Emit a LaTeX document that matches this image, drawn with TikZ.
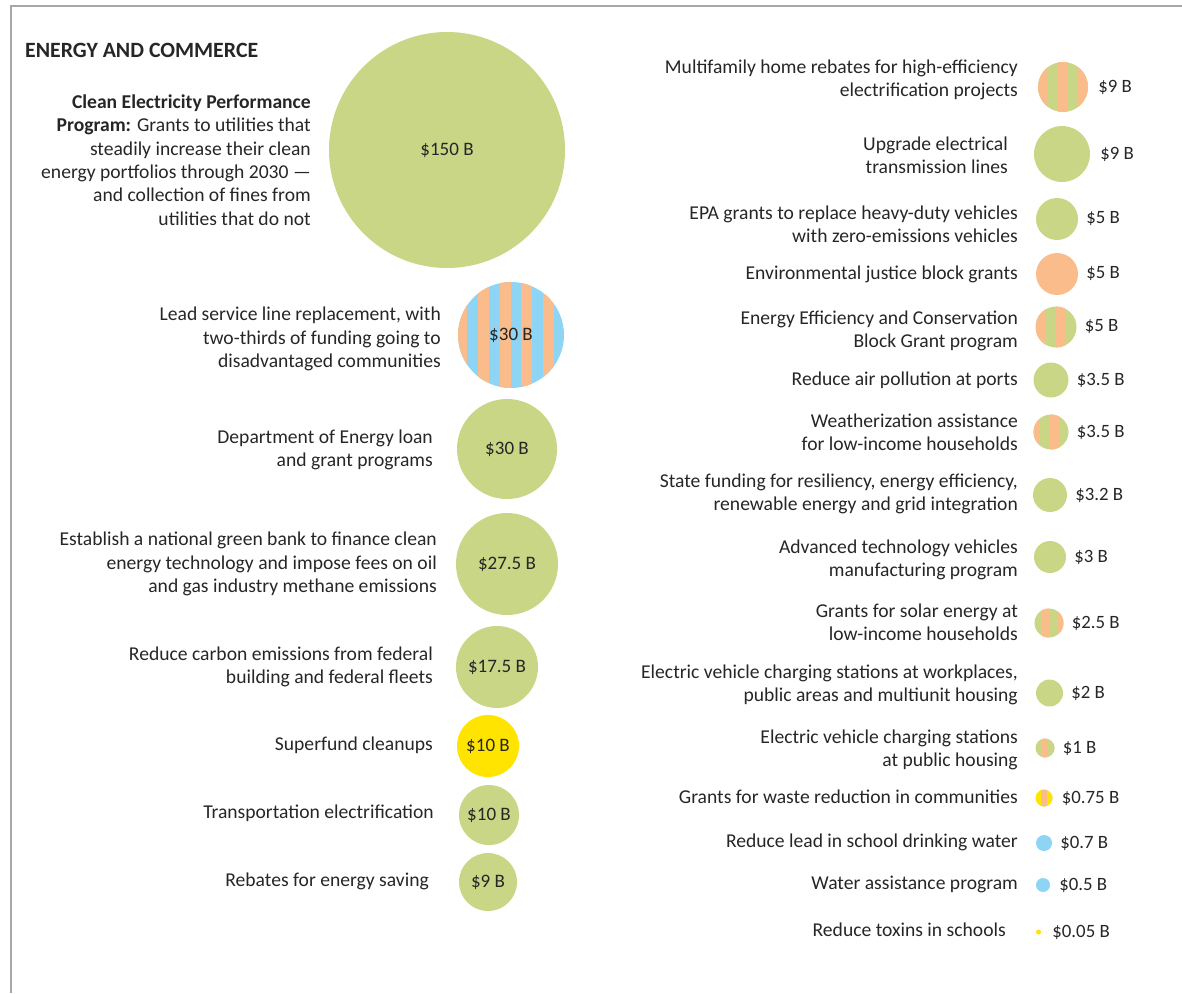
\documentclass[tikz,border=0pt]{standalone}
\usepackage{fontspec}
\setmainfont{Carlito}
\usepackage{tikz}
\usetikzlibrary{positioning}
\usetikzlibrary{calc}
\definecolor{leaf}{RGB}{200,214,134}
\definecolor{peach}{RGB}{250,188,138}
\definecolor{sky}{RGB}{142,213,245}
\definecolor{sun}{RGB}{255,228,0}
\definecolor{ink}{RGB}{38,38,38}
\definecolor{rule}{RGB}{168,168,168}
\tikzset{
  bubble/.style={circle, inner sep=0pt, minimum size=2*#1},
  striped/.style n args={3}{path picture={
      \foreach \k in {0,...,5}
        \fill[#1] ($(path picture bounding box.south west)+({#3+2*\k*#2},0)$) rectangle ++(#2,-300);}},
  desc/.style={anchor=east, align=right, inner sep=0pt, font=\fontsize{19.6}{23.4}\selectfont},
  val/.style={anchor=west, inner sep=0pt, font=\fontsize{18.8}{22}\selectfont},
}

\begin{document}
\begin{tikzpicture}[x=1pt, y=-1pt, font=\fontsize{19}{22}\selectfont, text=ink]
  \useasboundingbox (0,0) rectangle (1182,993);
  \draw[rule, line width=1.5pt] (11,993) -- (11,6) -- (1182,6);

  \node[anchor=west, inner sep=0pt, font=\fontsize{21.8}{26}\selectfont\bfseries] (head) at (25,50) {ENERGY AND COMMERCE};

  % left column
  \node[bubble=118, fill=leaf] (b150) at (447,150) {\$150 B};
  \node[bubble=53, fill=sky, striped={peach}{10.9}{-2}] (blead) at (511,335) {\$30 B};
  \node[bubble=50, fill=leaf] (bdoe) at (507,449) {\$30 B};
  \node[bubble=51, fill=leaf] (bbank) at (507,564) {\$27.5 B};
  \node[bubble=41, fill=leaf] (bcarbon) at (497,667) {\$17.5 B};
  \node[bubble=31, fill=sun] (bsuper) at (488,746) {\$10 B};
  \node[bubble=30, fill=leaf] (btrans) at (489,815) {\$10 B};
  \node[bubble=29, fill=leaf] (brebate) at (488,882) {\$9 B};

  \node[desc] (dclean) at (311,160) {\textbf{Clean Electricity Performance}\\\textbf{Program:} Grants to utilities that\\steadily increase their clean\\energy portfolios through 2030 ---\\and collection of fines from\\utilities that do not};
  \node[desc] (dlead) at (441,339) {Lead service line replacement, with\\two-thirds of funding going to\\disadvantaged communities};
  \node[desc] (ddoe) at (433,450) {Department of Energy loan\\and grant programs};
  \node[desc] (dbank) at (437,564) {Establish a national green bank to finance clean\\energy technology and impose fees on oil\\and gas industry methane emissions};
  \node[desc] (dcarbon) at (433,667) {Reduce carbon emissions from federal\\building and federal fleets};
  \node[desc] (dsuper) at (433,745) {Superfund cleanups};
  \node[desc] (dtrans) at (434,813) {Transportation electrification};
  \node[desc] (drebate) at (429,881) {Rebates for energy saving};

  % right column
  \node[bubble=25, fill=leaf, striped={peach}{10}{0}] (rmulti) at (1063,87) {};
  \node[bubble=28, fill=leaf] (rgrid) at (1062,154) {};
  \node[bubble=21, fill=leaf] (repa) at (1057,219) {};
  \node[bubble=21, fill=peach] (rjustice) at (1057,274) {};
  \node[bubble=20.5, fill=leaf, striped={peach}{10.3}{0}] (reecbg) at (1056,327) {};
  \node[bubble=17.5, fill=leaf] (rports) at (1051,380) {};
  \node[bubble=17.5, fill=leaf, striped={peach}{10}{-4}] (rweather) at (1051,432) {};
  \node[bubble=17, fill=leaf] (rstate) at (1050,495) {};
  \node[bubble=16, fill=leaf] (rvehicle) at (1050,557) {};
  \node[bubble=14.5, fill=leaf, striped={peach}{8.5}{6}] (rsolar) at (1049,623) {};
  \node[bubble=13.5, fill=leaf] (revwork) at (1049.5,693) {};
  \node[bubble=9.5, fill=leaf, striped={peach}{5.5}{6}] (revhouse) at (1045,748) {};
  \node[bubble=8.5, fill=sun, striped={peach}{5.5}{5.5}] (rwaste) at (1044,798) {};
  \node[bubble=8, fill=sky] (rschool) at (1044,843) {};
  \node[bubble=7, fill=sky] (rwater) at (1043,885) {};
  \node[bubble=2.5, fill=sun] (rtoxin) at (1038.5,932) {};

  \node[val, right=10pt of rmulti] (vmulti) {\$9 B};
  \node[val, right=10pt of rgrid] (vgrid) {\$9 B};
  \node[val, right=8pt of repa] (vepa) {\$5 B};
  \node[val, right=8pt of rjustice] (vjustice) {\$5 B};
  \node[val, right=8pt of reecbg] (veecbg) {\$5 B};
  \node[val, right=8pt of rports] (vports) {\$3.5 B};
  \node[val, right=8pt of rweather] (vweather) {\$3.5 B};
  \node[val, right=8pt of rstate] (vstate) {\$3.2 B};
  \node[val, right=8pt of rvehicle] (vvehicle) {\$3 B};
  \node[val, right=8pt of rsolar] (vsolar) {\$2.5 B};
  \node[val, right=8pt of revwork] (vevwork) {\$2 B};
  \node[val, right=8pt of revhouse] (vevhouse) {\$1 B};
  \node[val, right=9pt of rwaste] (vwaste) {\$0.75 B};
  \node[val, right=8pt of rschool] (vschool) {\$0.7 B};
  \node[val, right=9pt of rwater] (vwater) {\$0.5 B};
  \node[val, right=11pt of rtoxin] (vtoxin) {\$0.05 B};

  \node[desc] (dmulti) at (1018,80) {Multifamily home rebates for high-efficiency\\electrification projects};
  \node[desc] (dgrid) at (1008,155) {Upgrade electrical\\transmission lines};
  \node[desc] (depa) at (1018,224) {EPA grants to replace heavy-duty vehicles\\with zero-emissions vehicles};
  \node[desc] (djustice) at (1018,274) {Environmental justice block grants};
  \node[desc] (deecbg) at (1018,331) {Energy Efficiency and Conservation\\Block Grant program};
  \node[desc] (dports) at (1018,380) {Reduce air pollution at ports};
  \node[desc] (dweather) at (1018,432) {Weatherization assistance\\for low-income households};
  \node[desc] (dstate) at (1018,494) {State funding for resiliency, energy efficiency,\\renewable energy and grid integration};
  \node[desc] (dvehicle) at (1018,560) {Advanced technology vehicles\\manufacturing program};
  \node[desc] (dsolar) at (1018,622) {Grants for solar energy at\\low-income households};
  \node[desc] (devwork) at (1018,685) {Electric vehicle charging stations at workplaces,\\public areas and multiunit housing};
  \node[desc] (devhouse) at (1018,750) {Electric vehicle charging stations\\at public housing};
  \node[desc] (dwaste) at (1018,797) {Grants for waste reduction in communities};
  \node[desc] (dschool) at (1018,842) {Reduce lead in school drinking water};
  \node[desc] (dwater) at (1018,884) {Water assistance program};
  \node[desc] (dtoxin) at (1006,930) {Reduce toxins in schools};
\end{tikzpicture}
\end{document}
